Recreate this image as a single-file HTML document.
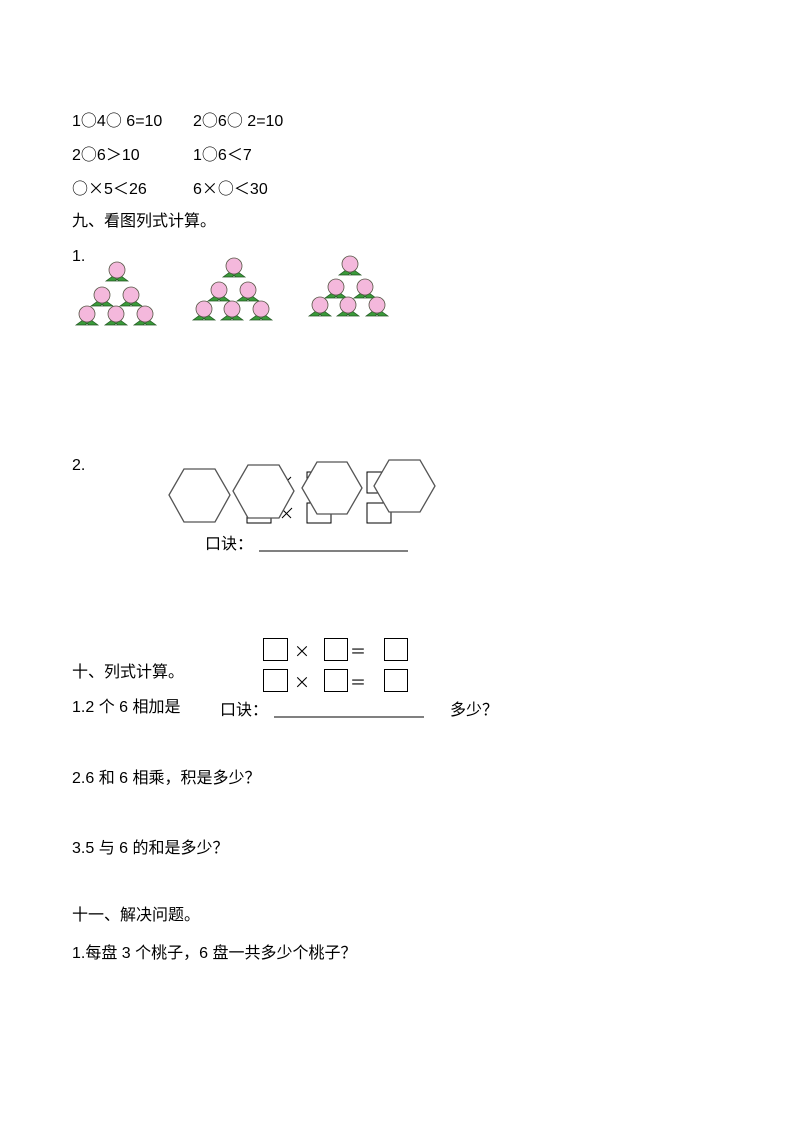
<!DOCTYPE html>
<html><head><meta charset="utf-8"><style>
body{margin:0;background:#fff}
#p{position:relative;width:793px;height:1122px;font-family:"Liberation Sans","Noto Sans CJK SC",sans-serif;font-size:16px;color:#000}
.t{position:absolute;white-space:pre;line-height:20px}
.c{font-family:"Noto Sans CJK SC",sans-serif}
.b{position:absolute;border:1px solid #000;background:#fff}
</style></head><body><div id="p">
<div class="t" style="left:72px;top:109px">1<span class="c">○</span>4<span class="c">○</span> 6=10</div>
<div class="t" style="left:193px;top:109px">2<span class="c">○</span>6<span class="c">○</span> 2=10</div>
<div class="t" style="left:72px;top:143px">2<span class="c">○</span>6<span class="c">＞</span>10</div>
<div class="t" style="left:193px;top:143px">1<span class="c">○</span>6<span class="c">＜</span>7</div>
<div class="t" style="left:72px;top:177px"><span class="c">○×</span>5<span class="c">＜</span>26</div>
<div class="t" style="left:193px;top:177px">6<span class="c">×○＜</span>30</div>
<div class="t" style="left:72px;top:212px">九、看图列式计算。</div>
<div class="t" style="left:72px;top:247px">1.</div>
<svg style="position:absolute;left:0;top:0" width="793" height="1122">
<defs><g id="pc"><path d="M-11,9 l7,-5 l6,5 z M11,9 l-7,-5 l-6,5 z" fill="#3a9a3a" stroke="#225522" stroke-width="0.7"/><circle cx="0" cy="-2" r="8" fill="#f4b8dc" stroke="#554" stroke-width="0.8"/></g></defs>
<use href="#pc" x="117" y="272"/><use href="#pc" x="102" y="297"/><use href="#pc" x="131" y="297"/><use href="#pc" x="87" y="316"/><use href="#pc" x="116" y="316"/><use href="#pc" x="145" y="316"/>
<use href="#pc" x="234" y="268"/><use href="#pc" x="219" y="292"/><use href="#pc" x="248" y="292"/><use href="#pc" x="204" y="311"/><use href="#pc" x="232" y="311"/><use href="#pc" x="261" y="311"/>
<use href="#pc" x="350" y="266"/><use href="#pc" x="336" y="289"/><use href="#pc" x="365" y="289"/><use href="#pc" x="320" y="307"/><use href="#pc" x="348" y="307"/><use href="#pc" x="377" y="307"/>
<g fill="#fff" stroke="#000" stroke-width="1">
<rect x="247" y="503" width="24" height="20"/><rect x="307" y="472" width="24" height="21"/><rect x="307" y="503" width="24" height="20"/><rect x="367" y="472" width="24" height="21"/><rect x="367" y="503" width="24" height="20"/>
<path d="M284,484 l7,-7 M282,518 l10,-10 M283,510 l8,8"/>
</g>
<g fill="#fff" stroke="#555" stroke-width="1.3">
<polygon points="169,495 184,469 215,469 230,495 215,522 184,522"/>
<polygon points="233,491 248,465 279,465 294,491 279,518 248,518"/>
<polygon points="302,488 317,462 347,462 362,488 347,514 317,514"/>
<polygon points="374,486 389,460 420,460 435,486 420,512 389,512"/>
</g>
<line x1="259" y1="551" x2="408" y2="551" stroke="#000"/>
<line x1="274" y1="717" x2="424" y2="717" stroke="#000"/>
</svg>
<div class="t" style="left:72px;top:456px">2.</div>
<div class="t" style="left:205px;top:535px">口诀：</div>
<div class="b" style="left:263px;top:638px;width:23px;height:21px"></div>
<div class="b" style="left:324px;top:638px;width:22px;height:21px"></div>
<div class="b" style="left:384px;top:638px;width:22px;height:21px"></div>
<div class="b" style="left:263px;top:669px;width:23px;height:21px"></div>
<div class="b" style="left:324px;top:669px;width:22px;height:21px"></div>
<div class="b" style="left:384px;top:669px;width:22px;height:21px"></div>
<div class="t c" style="left:294px;top:640px">×</div><div class="t c" style="left:350px;top:640px">＝</div>
<div class="t c" style="left:294px;top:671px">×</div><div class="t c" style="left:350px;top:671px">＝</div>
<div class="t" style="left:72px;top:663px">十、列式计算。</div>
<div class="t" style="left:72px;top:698px">1.2 个 6 相加是</div>
<div class="t" style="left:220px;top:701px">口诀：</div>
<div class="t" style="left:450px;top:698px">多少<span class="c">？</span></div>
<div class="t" style="left:72px;top:766px">2.6 和 6 相乘，积是多少<span class="c">？</span></div>
<div class="t" style="left:72px;top:836px">3.5 与 6 的和是多少<span class="c">？</span></div>
<div class="t" style="left:72px;top:906px">十一、解决问题。</div>
<div class="t" style="left:72px;top:941px">1.每盘 3 个桃子，6 盘一共多少个桃子<span class="c">？</span></div>
</div></body></html>
